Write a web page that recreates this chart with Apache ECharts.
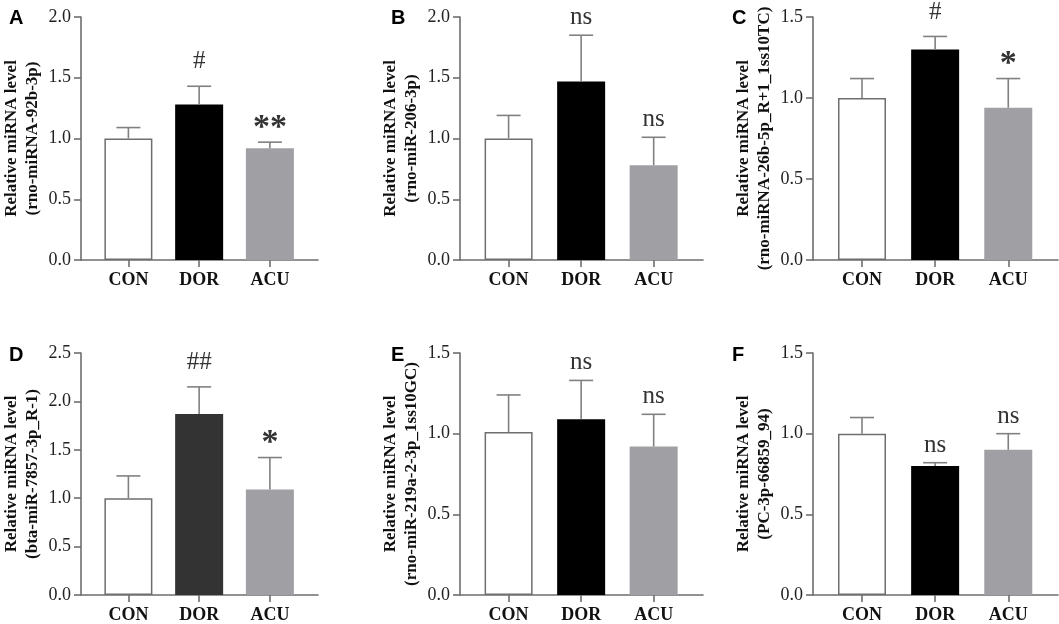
<!DOCTYPE html>
<html>
<head>
<meta charset="utf-8">
<script src="https://cdn.jsdelivr.net/npm/echarts@6/dist/echarts.min.js"></script>
<style>
html, body { margin: 0; padding: 0; background: #fff; }
#chart { width: 1059px; height: 624px; }
</style>
</head>
<body>
<div id="chart"></div>
<script>
const categories = ['CON', 'DOR', 'ACU'];
const panelLetters = ['A', 'B', 'C', 'D', 'E', 'F'];
const geneNames = [
    '(rno-miRNA-92b-3p)',
    '(rno-miR-206-3p)',
    '(rno-miRNA-26b-5p_R+1_1ss10TC)',
    '(bta-miR-7857-3p_R-1)',
    '(rno-miR-219a-2-3p_1ss10GC)',
    '(PC-3p-66859_94)'
];
const yMax = [2.0, 2.0, 1.5, 2.5, 1.5, 1.5];

// mean values (CON, DOR, ACU) and upper error
const meanA = [1.00, 1.28, 0.92];
const errA = [0.09, 0.15, 0.05];
const sigA = ['', '#', '**'];

const meanB = [1.00, 1.47, 0.78];
const errB = [0.19, 0.38, 0.23];
const sigB = ['', 'ns', 'ns'];

const meanC = [1.00, 1.30, 0.94];
const errC = [0.12, 0.08, 0.18];
const sigC = ['', '#', '*'];

const meanD = [1.00, 1.87, 1.09];
const errD = [0.23, 0.28, 0.33];
const sigD = ['', '##', '*'];

const meanE = [1.01, 1.09, 0.92];
const errE = [0.23, 0.24, 0.20];
const sigE = ['', 'ns', 'ns'];

const meanF = [1.00, 0.80, 0.90];
const errF = [0.10, 0.02, 0.10];
const sigF = ['', 'ns', 'ns'];

const panels = [
    { mean: meanA, err: errA, sig: sigA },
    { mean: meanB, err: errB, sig: sigB },
    { mean: meanC, err: errC, sig: sigC },
    { mean: meanD, err: errD, sig: sigD },
    { mean: meanE, err: errE, sig: sigE },
    { mean: meanF, err: errF, sig: sigF }
];

const serif = '"Liberation Serif", "Times New Roman", serif';
const sans = '"Liberation Sans", Arial, sans-serif';
const axisGray = '#6e6e6e';
const errGray = '#808080';

const gridLeft = [76, 460, 813];
const gridWidth = [242, 243, 245];
const gridTop = [17, 353];
const letterX = [4, 386, 727];
const letterY = [3, 340];

function barColors(i) {
    // panel D draws its DOR bar in dark grey
    return ['#ffffff', i === 3 ? '#333333' : '#000000', '#a0a0a4'];
}

function labelOffset(lab) {
    if (lab.indexOf('*') >= 0) return -3;
    if (lab.indexOf('#') >= 0) return 12;
    return 5;
}

const grids = [], xAxes = [], yAxes = [], series = [], titles = [];

panels.forEach((p, i) => {
    const col = i % 3, row = Math.floor(i / 3);
    grids.push({ left: gridLeft[col], top: gridTop[row], width: gridWidth[col], height: 243 });
    titles.push({
        text: panelLetters[i], left: letterX[col], top: letterY[row],
        textStyle: { fontFamily: sans, fontWeight: 'bold', fontSize: 20, color: '#000' }
    });
    xAxes.push({
        gridIndex: i, type: 'value', min: -0.67, max: 2.68,
        splitLine: { show: false },
        axisLine: { show: true, onZero: false, lineStyle: { color: axisGray, width: 1.6 } },
        axisTick: { show: true, customValues: [0, 1, 2], length: 7, lineStyle: { color: axisGray, width: 1.6 } },
        axisLabel: {
            customValues: [0, 1, 2], margin: 11,
            formatter: v => categories[Math.round(v)],
            fontFamily: serif, fontWeight: 'bold', fontSize: 18, color: '#111'
        }
    });
    yAxes.push({
        gridIndex: i, type: 'value', min: 0, max: yMax[i], interval: 0.5,
        name: 'Relative miRNA level\n' + geneNames[i],
        nameLocation: 'middle', nameGap: 38,
        nameTextStyle: { fontFamily: serif, fontWeight: 'bold', fontSize: 17, color: '#111', lineHeight: 21 },
        splitLine: { show: false },
        axisLine: { show: true, onZero: false, lineStyle: { color: axisGray, width: 1.6 } },
        axisTick: { show: true, length: 7, lineStyle: { color: axisGray, width: 1.6 } },
        axisLabel: {
            margin: 10, formatter: v => v.toFixed(1),
            fontFamily: serif, fontSize: 18, color: '#222'
        }
    });
    const colors = barColors(i);
    series.push({
        type: 'bar', xAxisIndex: i, yAxisIndex: i, barWidth: 48, silent: true,
        data: p.mean.map((v, k) => ({
            value: [k, v],
            itemStyle: {
                color: colors[k],
                borderColor: k === 0 ? axisGray : colors[k],
                borderWidth: k === 0 ? 1.5 : 0
            }
        }))
    });
    series.push({
        type: 'custom', xAxisIndex: i, yAxisIndex: i, silent: true, z: 5,
        data: p.mean.map((v, k) => [k, v, v + p.err[k]]),
        renderItem: (params, api) => {
            const x = api.value(0);
            const base = api.coord([x, api.value(1)]);
            const top = api.coord([x, api.value(2)]);
            const lab = p.sig[params.dataIndex];
            const lineStyle = { stroke: errGray, lineWidth: 1.6 };
            return {
                type: 'group',
                children: [
                    { type: 'line', shape: { x1: base[0], y1: base[1], x2: top[0], y2: top[1] }, style: lineStyle },
                    { type: 'line', shape: { x1: top[0] - 12, y1: top[1], x2: top[0] + 12, y2: top[1] }, style: lineStyle },
                    {
                        type: 'text', x: top[0], y: top[1] - labelOffset(lab),
                        style: {
                            text: lab, fill: '#333',
                            font: (lab.indexOf('*') >= 0 ? 'bold 34px ' : '25px ') + serif,
                            align: 'center', verticalAlign: 'bottom'
                        }
                    }
                ]
            };
        }
    });
});

const myChart = echarts.init(document.getElementById('chart'));

const option = {
    backgroundColor: '#fff',
    animation: false,
    title: titles,
    grid: grids,
    xAxis: xAxes,
    yAxis: yAxes,
    series: series
};

myChart.setOption(option);
</script>
</body>
</html>
